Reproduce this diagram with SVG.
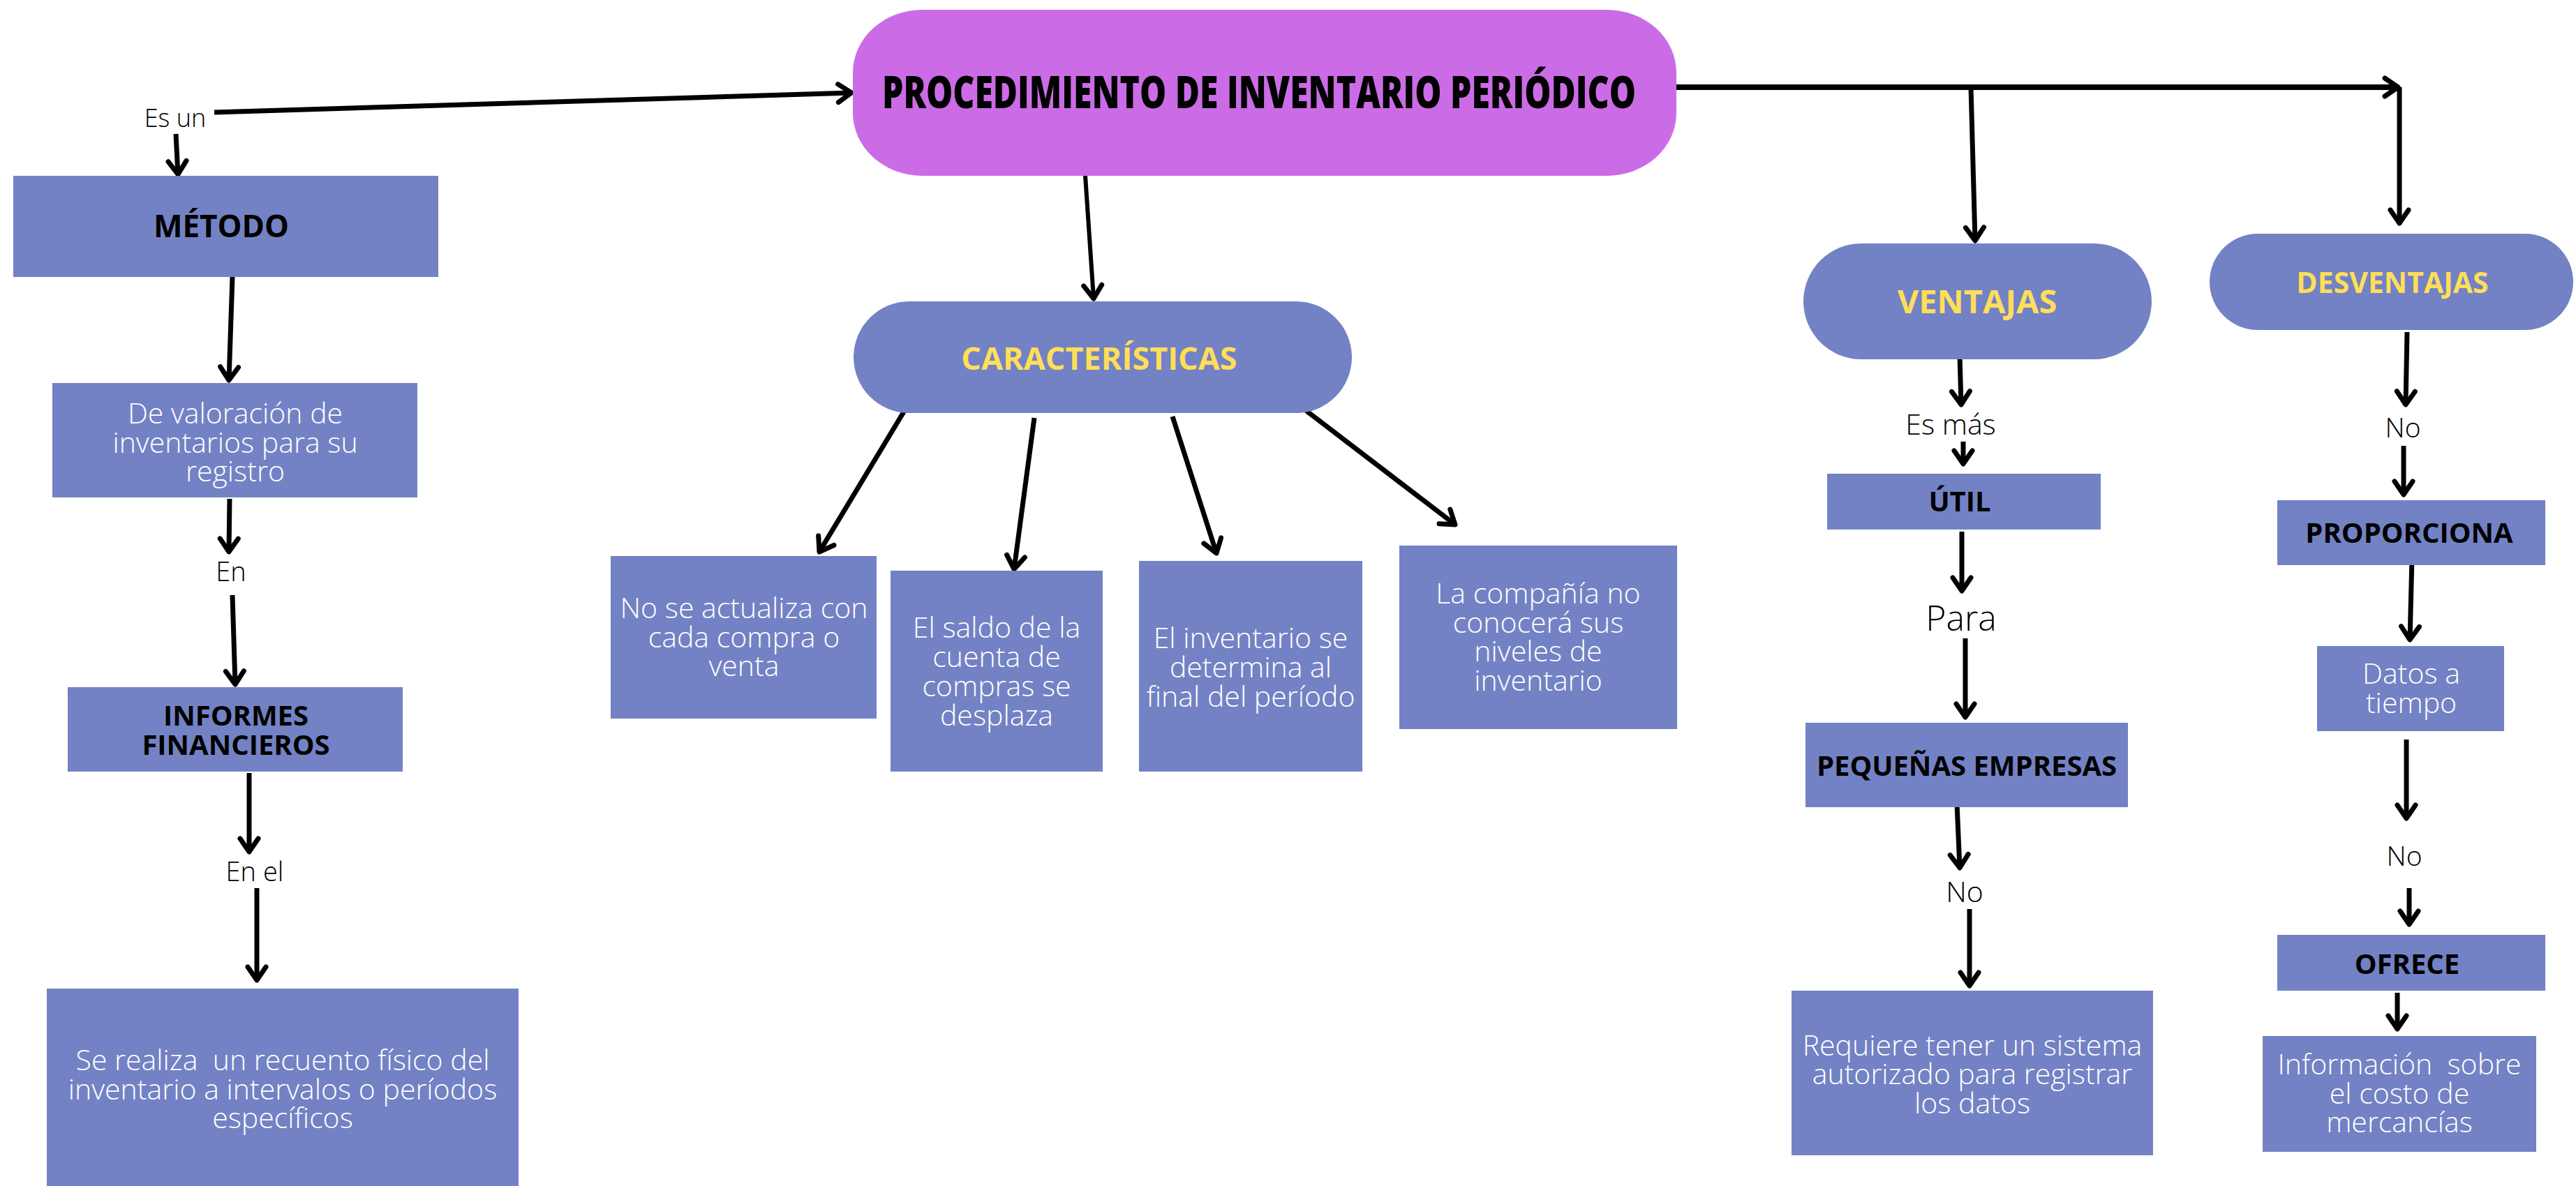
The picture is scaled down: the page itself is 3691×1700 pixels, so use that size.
<svg xmlns="http://www.w3.org/2000/svg" width="3691" height="1700" viewBox="0 0 3691 1700">
<style>
.box{fill:#7382C4}
.main{fill:#CB6CE6}
.body{font-family:"Open Sans","Liberation Sans",sans-serif;font-weight:300;font-size:41px;fill:#FFFFFF;text-anchor:middle}
.lbl{font-family:"Open Sans","Liberation Sans",sans-serif;font-weight:700;font-size:40px;fill:#000000;text-anchor:middle}
.yel{font-family:"Open Sans","Liberation Sans",sans-serif;font-weight:700;fill:#FFDE59;text-anchor:middle}
.conn{font-family:"Open Sans","Liberation Sans",sans-serif;font-weight:300;font-size:40px;fill:#000000;text-anchor:middle}
.title{font-family:"Open Sans","Liberation Sans",sans-serif;font-weight:800;font-size:64px;fill:#000000}
.ln{stroke:#000;stroke-width:7;fill:none;stroke-linecap:butt;marker-end:url(#chev)}
.ln2{stroke:#000;stroke-width:8;fill:none;stroke-linecap:butt}
</style>
<defs>
<marker id="chev" markerUnits="userSpaceOnUse" viewBox="-30 -20 40 40" refX="0" refY="0" markerWidth="40" markerHeight="40" orient="auto" overflow="visible">
<path d="M-19,-13 L0,0 L-19,13" fill="none" stroke="#000" stroke-width="7" stroke-linecap="round" stroke-linejoin="round"/>
</marker>
</defs>
<rect width="3691" height="1700" fill="#FFFFFF"/>

<g id="connectors">
<line class="ln" x1="307" y1="161" x2="1220" y2="133"/>
<line class="ln" x1="252" y1="192" x2="255" y2="250"/>
<line class="ln" x1="333" y1="397" x2="328" y2="545"/>
<line class="ln" x1="329" y1="715" x2="328" y2="791"/>
<line class="ln" x1="333" y1="853" x2="337" y2="981"/>
<line class="ln" x1="357" y1="1108" x2="357" y2="1221"/>
<line class="ln" x1="368" y1="1273" x2="368" y2="1405"/>
<line class="ln" style="stroke-width:6" x1="1555" y1="252" x2="1567" y2="428"/>
<line class="ln2" x1="2402" y1="125" x2="3436" y2="125" style="marker-end:url(#chev)"/>
<line class="ln" x1="3438" y1="125" x2="3438" y2="320"/>
<line class="ln" x1="2824" y1="125" x2="2830" y2="345"/>
<line class="ln" x1="1297" y1="587" x2="1174" y2="791"/>
<line class="ln" x1="1482" y1="599" x2="1453" y2="816"/>
<line class="ln" x1="1680" y1="597" x2="1743" y2="793"/>
<line class="ln" x1="1868" y1="586" x2="2085" y2="752"/>
<line class="ln" x1="2808" y1="510" x2="2810" y2="580"/>
<line class="ln" x1="2813" y1="633" x2="2813" y2="665"/>
<line class="ln" x1="2811" y1="762" x2="2811" y2="847"/>
<line class="ln" x1="2816" y1="915" x2="2816" y2="1028"/>
<line class="ln" x1="2804" y1="1152" x2="2808" y2="1244"/>
<line class="ln" x1="2822" y1="1303" x2="2822" y2="1413"/>
<line class="ln" x1="3449" y1="476" x2="3447" y2="580"/>
<line class="ln" x1="3444" y1="639" x2="3444" y2="709"/>
<line class="ln" x1="3456" y1="799" x2="3453" y2="917"/>
<line class="ln" x1="3448" y1="1060" x2="3448" y2="1173"/>
<line class="ln" x1="3452" y1="1273" x2="3452" y2="1325"/>
<line class="ln" x1="3435" y1="1423" x2="3435" y2="1475"/>
</g>

<g id="lbl-esun"><text class="conn" style="font-size:36px" x="251" y="182">Es un</text></g>
<g id="lbl-en"><text class="conn" style="font-size:38px" x="331" y="833">En</text></g>
<g id="lbl-enel"><text class="conn" style="font-size:38px" x="365" y="1263">En el</text></g>
<g id="lbl-esmas"><text class="conn" style="font-size:41px" x="2795" y="623">Es más</text></g>
<g id="lbl-para"><text class="conn" style="font-size:50px" x="2810" y="904">Para</text></g>
<g id="lbl-no1"><text class="conn" style="font-size:41px" x="2815" y="1293">No</text></g>
<g id="lbl-no2"><text class="conn" style="font-size:39px" x="3443" y="627">No</text></g>
<g id="lbl-no3"><text class="conn" style="font-size:39px" x="3445" y="1241">No</text></g>

<g id="main">
<rect class="main" x="1222" y="14" width="1180" height="238" rx="100" ry="90"/>
<text class="title" x="1264" y="155" textLength="1080" lengthAdjust="spacingAndGlyphs">PROCEDIMIENTO DE INVENTARIO PERIÓDICO</text>
</g>

<g id="metodo">
<rect class="box" x="19" y="252" width="609" height="145"/>
<text class="lbl" style="font-size:44px" x="317" y="340">MÉTODO</text>
</g>
<g id="valoracion">
<rect class="box" x="75" y="549" width="523" height="164"/>
<text class="body" x="337" y="607">De valoración de</text>
<text class="body" x="337" y="649">inventarios para su</text>
<text class="body" x="337" y="690">registro</text>
</g>
<g id="informes">
<rect class="box" x="97" y="985" width="480" height="121"/>
<text class="lbl" x="338" y="1040">INFORMES</text>
<text class="lbl" x="338" y="1082">FINANCIEROS</text>
</g>
<g id="recuento">
<rect class="box" x="67" y="1417" width="676" height="283"/>
<text class="body" xml:space="preserve" x="405" y="1534">Se realiza  un recuento físico del</text>
<text class="body" x="405" y="1576">inventario a intervalos o períodos</text>
<text class="body" x="405" y="1617">específicos</text>
</g>

<g id="caracteristicas">
<rect class="box" x="1223" y="432" width="714" height="160" rx="80" ry="80"/>
<text class="yel" style="font-size:45px" x="1575" y="530">CARACTERÍSTICAS</text>
</g>
<g id="car1">
<rect class="box" x="875" y="797" width="381" height="233"/>
<text class="body" x="1066" y="886">No se actualiza con</text>
<text class="body" x="1066" y="928">cada compra o</text>
<text class="body" x="1066" y="969">venta</text>
</g>
<g id="car2">
<rect class="box" x="1276" y="818" width="304" height="288"/>
<text class="body" x="1428" y="914">El saldo de la</text>
<text class="body" x="1428" y="956">cuenta de</text>
<text class="body" x="1428" y="998">compras se</text>
<text class="body" x="1428" y="1040">desplaza</text>
</g>
<g id="car3">
<rect class="box" x="1632" y="804" width="320" height="302"/>
<text class="body" x="1792" y="929">El inventario se</text>
<text class="body" x="1792" y="971">determina al</text>
<text class="body" x="1792" y="1013">final del período</text>
</g>
<g id="car4">
<rect class="box" x="2005" y="782" width="398" height="263"/>
<text class="body" x="2204" y="865">La compañía no</text>
<text class="body" x="2204" y="907">conocerá sus</text>
<text class="body" x="2204" y="948">niveles de</text>
<text class="body" x="2204" y="990">inventario</text>
</g>

<g id="ventajas">
<rect class="box" x="2584" y="349" width="499" height="166" rx="83" ry="83"/>
<text class="yel" style="font-size:47px" x="2833" y="449">VENTAJAS</text>
</g>
<g id="util">
<rect class="box" x="2618" y="679" width="392" height="80"/>
<text class="lbl" x="2808" y="733">ÚTIL</text>
</g>
<g id="pequenas">
<rect class="box" x="2587" y="1036" width="462" height="121"/>
<text class="lbl" x="2818" y="1112">PEQUEÑAS EMPRESAS</text>
</g>
<g id="requiere">
<rect class="box" x="2567" y="1420" width="518" height="236"/>
<text class="body" x="2826" y="1513">Requiere tener un sistema</text>
<text class="body" x="2826" y="1554">autorizado para registrar</text>
<text class="body" x="2826" y="1596">los datos</text>
</g>

<g id="desventajas">
<rect class="box" x="3166" y="335" width="521" height="138" rx="69" ry="69"/>
<text class="yel" style="font-size:41px" x="3428" y="420">DESVENTAJAS</text>
</g>
<g id="proporciona">
<rect class="box" x="3263" y="717" width="384" height="93"/>
<text class="lbl" x="3452" y="778">PROPORCIONA</text>
</g>
<g id="datos">
<rect class="box" x="3320" y="926" width="268" height="122"/>
<text class="body" x="3455" y="980">Datos a</text>
<text class="body" x="3455" y="1022">tiempo</text>
</g>
<g id="ofrece">
<rect class="box" x="3263" y="1340" width="384" height="80"/>
<text class="lbl" x="3449" y="1396">OFRECE</text>
</g>
<g id="informacion">
<rect class="box" x="3242" y="1485" width="392" height="166"/>
<text class="body" xml:space="preserve" x="3438" y="1540">Información  sobre</text>
<text class="body" x="3438" y="1582">el costo de</text>
<text class="body" x="3438" y="1623">mercancías</text>
</g>
</svg>
